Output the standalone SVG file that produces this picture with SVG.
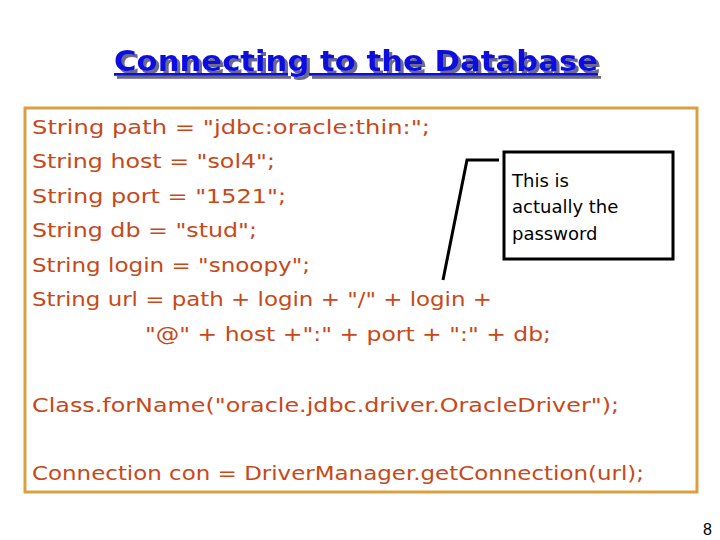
<svg xmlns="http://www.w3.org/2000/svg" width="720" height="540" viewBox="0 0 720 540">
<style>
.c{font-family:"DejaVu Sans",sans-serif;font-size:20px;fill:#c84818}
.t{font-family:"DejaVu Sans",sans-serif;font-size:28px;font-weight:bold;text-decoration:underline}
.n{font-family:"DejaVu Sans",sans-serif;font-size:18px;fill:#000}
</style>
<defs>
<filter id="sh" x="-5%" y="-20%" width="110%" height="150%">
<feDropShadow dx="3" dy="3" stdDeviation="0" flood-color="#6a6a8a"/>
</filter>
</defs>
<rect width="720" height="540" fill="#fff"/>
<g id="title">
<text class="t" x="356" y="71" text-anchor="middle" fill="#1010e0" filter="url(#sh)" textLength="484" lengthAdjust="spacingAndGlyphs">Connecting to the Database</text>
</g>
<g id="codebox">
<rect x="25" y="108" width="672" height="384" fill="none" stroke="#d9a040" stroke-width="3"/>
<text class="c" x="32" y="134" textLength="398" lengthAdjust="spacingAndGlyphs">String path = "jdbc:oracle:thin:";</text>
<text class="c" x="32" y="168" textLength="243" lengthAdjust="spacingAndGlyphs">String host = "sol4";</text>
<text class="c" x="32" y="203" textLength="254" lengthAdjust="spacingAndGlyphs">String port = "1521";</text>
<text class="c" x="32" y="237" textLength="225" lengthAdjust="spacingAndGlyphs">String db = "stud";</text>
<text class="c" x="32" y="272" textLength="278" lengthAdjust="spacingAndGlyphs">String login = "snoopy";</text>
<text class="c" x="32" y="306" textLength="460" lengthAdjust="spacingAndGlyphs">String url = path + login + "/" + login +</text>
<text class="c" x="145" y="341" textLength="406" lengthAdjust="spacingAndGlyphs">"@" + host +":" + port + ":" + db;</text>
<text class="c" x="32" y="412" textLength="587" lengthAdjust="spacingAndGlyphs">Class.forName("oracle.jdbc.driver.OracleDriver");</text>
<text class="c" x="32" y="480" textLength="612" lengthAdjust="spacingAndGlyphs">Connection con =  DriverManager.getConnection(url);</text>
</g>
<g id="connectors">
<polyline points="499,160 467,160 443,280" fill="none" stroke="#000" stroke-width="3"/>
</g>
<g id="callout">
<rect x="504" y="152" width="169" height="107" fill="#fff" stroke="#000" stroke-width="3"/>
<text class="n" x="512" y="187">This is</text>
<text class="n" x="512" y="213">actually the</text>
<text class="n" x="512" y="240">password</text>
</g>
<text x="712" y="535" text-anchor="end" font-family="Liberation Sans,sans-serif" font-size="16" fill="#000">8</text>
</svg>
